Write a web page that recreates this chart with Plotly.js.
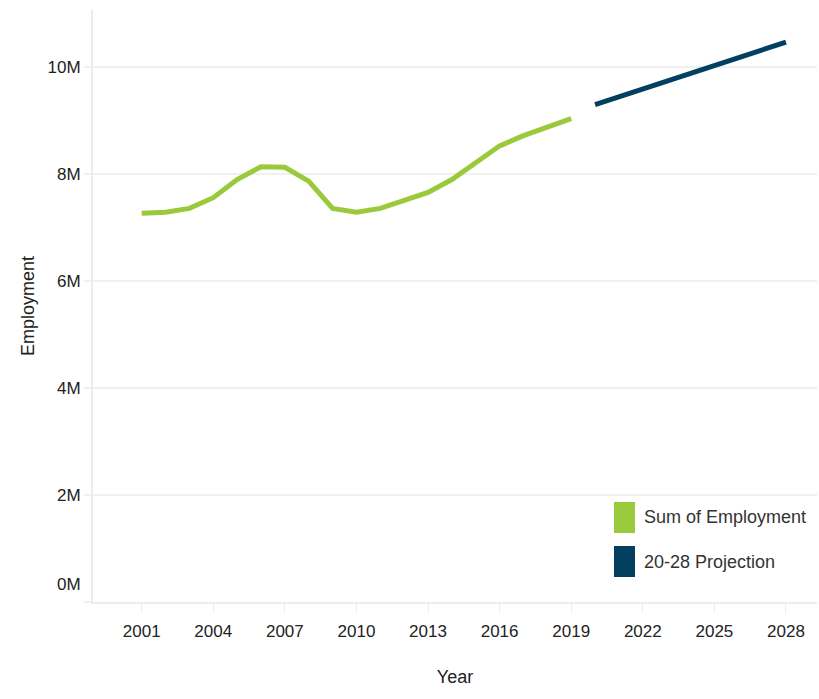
<!DOCTYPE html>
<html>
<head>
<meta charset="utf-8">
<script src="https://cdn.plot.ly/plotly-3.0.1.min.js"></script>
<style>
  html, body { margin: 0; padding: 0; background: #fff; }
  #chart { width: 819px; height: 699px; }
</style>
</head>
<body>
<div id="chart"></div>
<script>
// values (employment in people)
var years = [2001, 2002, 2003, 2004, 2005, 2006, 2007, 2008, 2009, 2010,
             2011, 2012, 2013, 2014, 2015, 2016, 2017, 2018, 2019];
var employment = [7270000, 7290000, 7360000, 7560000, 7900000, 8140000, 8130000,
                  7870000, 7360000, 7290000, 7360000, 7500000, 7660000, 7900000,
                  8210000, 8530000, 8720000, 8880000, 9040000];

var projYears = [2020, 2028];
var projection = [9300000, 10470000];

var seriesNames = ['Sum of Employment', '20-28 Projection'];
var seriesColors = ['#9bc93c', '#033f5e'];

var xTicks = [2001, 2004, 2007, 2010, 2013, 2016, 2019, 2022, 2025, 2028];
var yTicks = [0, 2000000, 4000000, 6000000, 8000000, 10000000];
var yTickText = ['', '2M', '4M', '6M', '8M', '10M'];

var FONT = '"Liberation Sans", Arial, sans-serif';

var trace1 = {
    x: years,
    y: employment,
    name: seriesNames[0],
    type: 'scatter',
    mode: 'lines',
    line: {color: seriesColors[0], width: 5},
    showlegend: false
};

var trace2 = {
    x: projYears,
    y: projection,
    name: seriesNames[1],
    type: 'scatter',
    mode: 'lines',
    line: {color: seriesColors[1], width: 5},
    showlegend: false
};

// legend drawn as tall swatches + labels, like the original
var swatchY = [[0.1166, 0.1689], [0.0422, 0.0946]];
var shapes = [];
var annotations = [];
seriesNames.forEach(function (name, i) {
    shapes.push({
        type: 'rect', xref: 'paper', yref: 'paper',
        x0: 0.7196, x1: 0.7486, y0: swatchY[i][0], y1: swatchY[i][1],
        fillcolor: seriesColors[i], line: {width: 0}
    });
    annotations.push({
        xref: 'paper', yref: 'paper',
        x: 0.7583, y: (swatchY[i][0] + swatchY[i][1]) / 2,
        xanchor: 'left', yanchor: 'middle', showarrow: false,
        text: name,
        font: {family: FONT, size: 18, color: '#333333'}
    });
});

// bottom label sits a little above the axis in the original
annotations.push({
    xref: 'paper', yref: 'y', x: 0, y: 0,
    xanchor: 'right', yanchor: 'middle', xshift: -10, yshift: 18,
    showarrow: false, text: '0M',
    font: {family: FONT, size: 17, color: '#222222'}
});

var layout = {
    width: 819,
    height: 699,
    margin: {l: 93, r: 2, t: 10, b: 97},
    paper_bgcolor: '#ffffff',
    plot_bgcolor: '#ffffff',
    font: {family: FONT, size: 17, color: '#222222'},
    xaxis: {
        title: {text: 'Year', font: {family: FONT, size: 18, color: '#222222'}, standoff: 30},
        range: [1998.96, 2029.3],
        tickvals: xTicks,
        ticktext: xTicks.map(String),
        ticklabelstandoff: 4,
        showgrid: false,
        zeroline: false,
        showline: true,
        linecolor: '#ececec',
        linewidth: 2,
        ticks: 'outside',
        ticklen: 9,
        tickcolor: '#ececec',
        tickwidth: 1
    },
    yaxis: {
        title: {text: 'Employment', font: {family: FONT, size: 18, color: '#222222'}, standoff: 8},
        range: [0, 11070000],
        tickvals: yTicks,
        ticktext: yTickText,
        showgrid: true,
        gridcolor: '#f0f0f0',
        gridwidth: 2,
        zeroline: false,
        showline: true,
        linecolor: '#ececec',
        linewidth: 2,
        ticks: 'outside',
        ticklen: 7,
        tickcolor: '#f0f0f0',
        tickwidth: 2
    },
    shapes: shapes,
    annotations: annotations,
    showlegend: false
};

Plotly.newPlot('chart', [trace1, trace2], layout, {displayModeBar: false});
</script>
</body>
</html>
